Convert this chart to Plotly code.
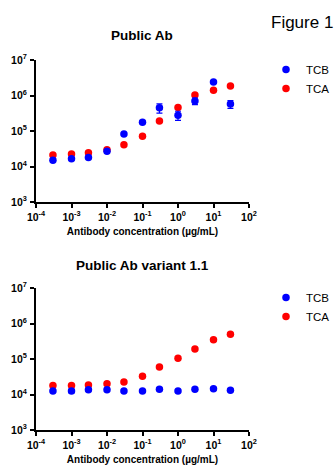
import plotly.graph_objects as go

conc = [3e-4, 1e-3, 3e-3, 1e-2, 3e-2, 1e-1, 3e-1, 1, 3, 10, 30]

# Public Ab
tcb_pub = [1.5e4, 1.66e4, 1.8e4, 2.7e4, 8.2e4, 1.76e5, 4.5e5, 2.8e5, 7.0e5, 2.4e6, 5.75e5]
tcb_pub_err = [0, 0, 0, 0, 0, 0, 1.3e5, 0.8e5, 1.5e5, 0, 1.4e5]
tca_pub = [2.1e4, 2.25e4, 2.45e4, 2.95e4, 4.1e4, 7.1e4, 1.9e5, 4.6e5, 1.03e6, 1.4e6, 1.86e6]

# Public Ab variant 1.1
tcb_var = [1.26e4, 1.26e4, 1.35e4, 1.35e4, 1.26e4, 1.26e4, 1.41e4, 1.26e4, 1.41e4, 1.45e4, 1.32e4]
tcb_var_err = [0, 1.5e3, 0, 0, 1.0e3, 0, 0, 0, 0, 0, 0]
tca_var = [1.78e4, 1.78e4, 1.86e4, 2.0e4, 2.24e4, 3.25e4, 6.0e4, 1.05e5, 1.9e5, 3.5e5, 5.0e5]

xtickvals = [1e-4, 1e-3, 1e-2, 1e-1, 1, 10, 100]
xticktext = ["10<sup>-4</sup>", "10<sup>-3</sup>", "10<sup>-2</sup>", "10<sup>-1</sup>",
             "10<sup>0</sup>", "10<sup>1</sup>", "10<sup>2</sup>"]
ytickvals = [1e3, 1e4, 1e5, 1e6, 1e7]
yticktext = ["10<sup>3</sup>", "10<sup>4</sup>", "10<sup>5</sup>", "10<sup>6</sup>", "10<sup>7</sup>"]

BLUE = "#0000FF"
RED = "#FF0000"
W, H = 335, 465
FONT = "Arial, Liberation Sans, sans-serif"

fig = go.Figure()

def add_series(x, y, err, name, color, xa, ya, legend, order):
    fig.add_trace(go.Scatter(
        x=x, y=y, mode="markers", name=name,
        marker=dict(color=color, size=7.5),
        error_y=dict(type="data", array=err, visible=True, color=color,
                     thickness=1.2, width=3) if err is not None else None,
        xaxis=xa, yaxis=ya, legend=legend, legendrank=order,
    ))

add_series(conc, tca_pub, None, "TCA", RED, "x", "y", "legend", 2)
add_series(conc, tcb_pub, tcb_pub_err, "TCB", BLUE, "x", "y", "legend", 1)
add_series(conc, tca_var, None, "TCA", RED, "x2", "y2", "legend2", 2)
add_series(conc, tcb_var, tcb_var_err, "TCB", BLUE, "x2", "y2", "legend2", 1)

xd = [36 / W, 249 / W]
ytop = [1 - 202 / H, 1 - 60 / H]
ybot = [1 - 430 / H, 1 - 288 / H]

axis_common = dict(
    showline=True, linecolor="black", linewidth=2,
    ticks="outside", ticklen=4, tickwidth=1.5, tickcolor="black",
    showgrid=False, zeroline=False,
    tickfont=dict(family=FONT, size=10.5, color="black", weight="bold"),
)

xaxis_common = dict(axis_common, type="log", range=[-4, 2],
                    tickvals=xtickvals, ticktext=xticktext, domain=xd)
yaxis_common = dict(axis_common, type="log", range=[3, 7],
                    tickvals=ytickvals, ticktext=yticktext, ticklabelstandoff=1)

axis_title_font = dict(family=FONT, size=10, color="black", weight="bold")

legend_common = dict(x=1, xanchor="right", yanchor="top",
                     font=dict(family=FONT, size=11.5, color="black"),
                     bgcolor="rgba(0,0,0,0)", tracegroupgap=0, itemwidth=30)

fig.update_layout(
    width=W, height=H,
    margin=dict(l=0, r=0, t=0, b=0, autoexpand=False),
    paper_bgcolor="white", plot_bgcolor="white",
    showlegend=True,
    xaxis=dict(xaxis_common, anchor="y",
               title=dict(text="Antibody concentration (µg/mL)", font=axis_title_font, standoff=6)),
    yaxis=dict(yaxis_common, anchor="x", domain=ytop),
    xaxis2=dict(xaxis_common, anchor="y2",
                title=dict(text="Antibody concentration (µg/mL)", font=axis_title_font, standoff=6)),
    yaxis2=dict(yaxis_common, anchor="x2", domain=ybot),
    legend=dict(legend_common, y=1 - 55 / H),
    legend2=dict(legend_common, y=1 - 283 / H),
    annotations=[
        dict(text="Figure 1", x=1.0, y=1 - 22 / H, xref="paper", yref="paper",
             xanchor="right", yanchor="middle", showarrow=False,
             font=dict(family=FONT, size=17, color="black")),
        dict(text="<b>Public Ab</b>", x=142 / W, y=1 - 36 / H, xref="paper", yref="paper",
             xanchor="center", yanchor="middle", showarrow=False,
             font=dict(family=FONT, size=13.5, color="black")),
        dict(text="<b>Public Ab variant 1.1</b>", x=142 / W, y=1 - 265 / H, xref="paper", yref="paper",
             xanchor="center", yanchor="middle", showarrow=False,
             font=dict(family=FONT, size=13.5, color="black")),
    ],
)

fig.write_html(
    "out.html",
    config={"displayModeBar": False},
    post_script="document.body.style.margin='0';document.body.style.overflow='hidden';",
)
